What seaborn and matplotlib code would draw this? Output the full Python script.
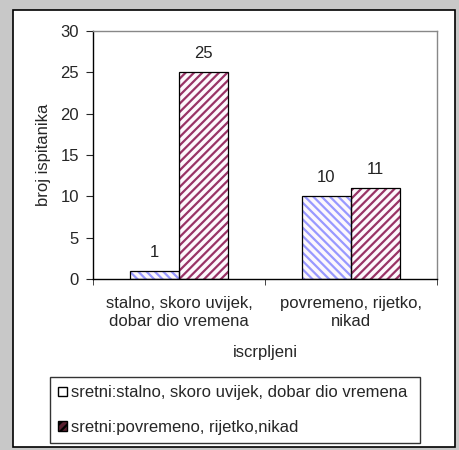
import seaborn as sns
import pandas as pd
import matplotlib.pyplot as plt
from matplotlib.patches import Rectangle
from matplotlib.ticker import FixedLocator

categories = ["stalno, skoro uvijek,\ndobar dio vremena", "povremeno, rijetko,\nnikad"]
series = ["sretni:stalno, skoro uvijek, dobar dio vremena", "sretni:povremeno, rijetko,nikad"]
values_s1 = [1, 10]
values_s2 = [25, 11]

hatch_cols = ["#9999FF", "#993366"]
hatches = ["\\\\\\\\", "////"]

data = pd.DataFrame({
    "cat": categories * 2,
    "serie": [series[0]] * 2 + [series[1]] * 2,
    "val": values_s1 + values_s2,
})

sns.set_style("white")
plt.rcParams["font.family"] = ["Liberation Sans", "DejaVu Sans"]
plt.rcParams["hatch.linewidth"] = 1.6
fs = 12

fig = plt.figure(figsize=(4.59, 4.5), dpi=100, facecolor="#c8c8c8")
# white chart area with black border
fig.patches.append(Rectangle((13 / 459, 1 - 447 / 450), 442 / 459, 437 / 450,
                             transform=fig.transFigure, facecolor="white",
                             edgecolor="black", lw=1.2, zorder=-5))

ax = fig.add_axes([93 / 459, 1 - 279 / 450, 344 / 459, 248 / 450])
ax.set_facecolor("white")
sns.barplot(data=data, x="cat", y="val", hue="serie", palette=hatch_cols,
            width=0.57, gap=0, ax=ax, legend=False)

for i, cont in enumerate(ax.containers):
    for p in cont:
        p.set_facecolor("#fdf8fc")
        p.set_edgecolor(hatch_cols[i])
        p.set_hatch(hatches[i])
        p.set_linewidth(0)
        ax.add_patch(Rectangle(p.get_xy(), p.get_width(), p.get_height(),
                               fill=False, edgecolor="black", lw=0.9, zorder=3))
    ax.bar_label(cont, padding=8, fontsize=fs, color="#222222")

ax.set_ylim(0, 30)
ax.set_xlim(-0.5, 1.5)
ax.set_yticks(range(0, 31, 5))
ax.xaxis.set_minor_locator(FixedLocator([-0.5, 0.5, 1.5]))
ax.tick_params(axis="x", which="major", length=0, labelsize=fs, pad=12)
ax.tick_params(axis="x", which="minor", length=4, direction="out", bottom=True)
ax.tick_params(axis="y", length=5, direction="out", left=True, labelsize=fs, pad=5)
for t in ax.get_xticklabels():
    t.set_linespacing(1.25)

for s in ["top", "right"]:
    ax.spines[s].set_color("#888888")
    ax.spines[s].set_linewidth(1)
for s in ["left", "bottom"]:
    ax.spines[s].set_color("black")
    ax.spines[s].set_linewidth(1)

ax.set_ylabel("broj ispitanika", fontsize=fs, labelpad=7)
ax.set_xlabel("iscrpljeni", fontsize=fs, labelpad=12)

handles = [Rectangle((0, 0), 1, 1, facecolor="white", edgecolor="black", lw=1),
           Rectangle((0, 0), 1, 1, facecolor="#5a2030", edgecolor="black", lw=1,
                     hatch="////")]
leg = fig.legend(handles, series, loc="lower left",
                 bbox_to_anchor=(50 / 459, 1 - 443 / 450, 370 / 459, 64 / 450),
                 mode="expand", frameon=True, fancybox=False, fontsize=fs,
                 handlelength=0.5, handleheight=0.5, handletextpad=0.25,
                 borderaxespad=0, labelspacing=1.15, borderpad=0.5)
leg.get_frame().set_edgecolor("black")
leg.get_frame().set_linewidth(1)

plt.savefig("out.png", dpi=100, facecolor=fig.get_facecolor())
